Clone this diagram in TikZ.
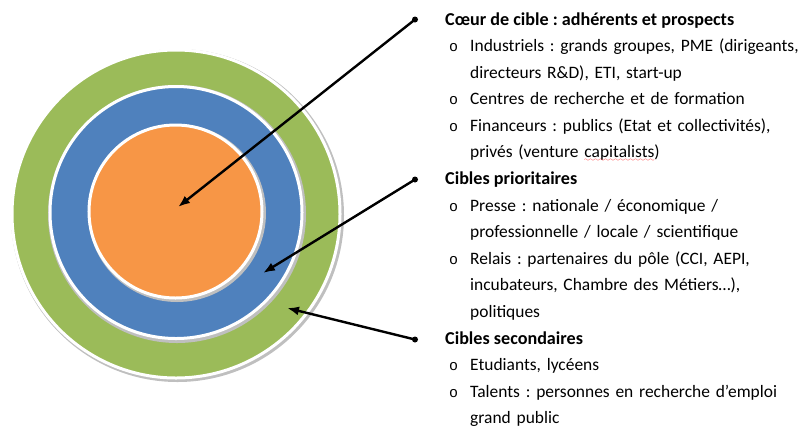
\documentclass[tikz,border=0pt]{standalone}
\usepackage{fontspec}
\setmainfont{Carlito}
\newfontfamily\puceFont{Liberation Mono}
\usetikzlibrary{arrows.meta,positioning}
\definecolor{CibleVert}{HTML}{9BBB59}
\definecolor{CibleBleu}{HTML}{4F81BD}
\definecolor{CibleOrange}{HTML}{F79646}
\frenchspacing
\newcommand{\taille}{\fontsize{17.5}{26.6}\selectfont}
\newcommand{\puce}{\leavevmode\llap{{\puceFont\fontsize{15}{26.6}\selectfont o}\hspace{12bp}}}
\font\vague=lasy6
\newcommand{\ondule}[1]{\setbox0\hbox{#1}\rlap{\copy0}%
  \lower3.5bp\hbox to\wd0{\color{red}\xleaders\hbox{\vague\char58}\hfil}}

\begin{document}
\begin{tikzpicture}[x=1bp,y=-1bp,
  anneau/.style={circle,draw=white,line width=3bp,inner sep=0pt},
  ombre/.style={circle,fill=black!25,inner sep=0pt},
  titre/.style={anchor=base west,inner sep=0pt,font=\fontsize{18.2}{26.6}\selectfont\bfseries},
  liste/.style={anchor=base west,inner sep=0pt,text width=345bp,align=left,font=\taille},
  point/.style={circle,fill=black,inner sep=0pt,minimum size=6bp},
  fleche/.style={-{Latex[length=12bp,width=9bp]},line width=2.4bp}]
  \useasboundingbox (0,0) rectangle (805,428);
  % cible
  \node[ombre,minimum size=333bp] at (177.5,215.5) {};
  \node[anneau,fill=CibleVert,minimum size=328bp] (vert) at (176,214) {};
  \node[ombre,minimum size=258bp] at (177,214) {};
  \node[anneau,fill=CibleBleu,minimum size=252bp] (bleu) at (176,212.5) {};
  \node[ombre,minimum size=178bp] at (177,213) {};
  \node[anneau,fill=CibleOrange,minimum size=173bp] (orange) at (175.5,211.5) {};
  \coordinate (cible1) at (178,207);
  \coordinate (cible2) at (263,273);
  \coordinate (cible3) at (287,308);
  % textes
  \node[point] (dot1) at (415,19.5) {};
  \node[titre] (coeur) at (445,25) {C\oe ur de cible : adhérents et prospects};
  \node[liste] (coeurliste) at (470,51.6) {\puce Industriels : grands groupes, PME (dirigeants,\\
    directeurs R\&D), ETI, start-up\\
    \puce Centres de recherche et de formation\\
    \puce Financeurs : publics (Etat et collectivités),\\
    privés (venture \ondule{capitalists})};
  \node[point] (dot2) at (415,179.5) {};
  \node[titre] (prio) at (445,184.6) {Cibles prioritaires};
  \node[liste] (prioliste) at (470,211.2) {\puce Presse : nationale / économique /\\
    professionnelle / locale / scientifique\\
    \puce Relais : partenaires du pôle (CCI, AEPI,\\
    incubateurs, Chambre des Métiers…),\\
    politiques};
  \node[point] (dot3) at (415,339.5) {};
  \node[titre] (second) at (445,344.2) {Cibles secondaires};
  \node[liste] (secondliste) at (470,370.8) {\puce Etudiants, lycéens\\
    \puce Talents : personnes en recherche d’emploi\\
    grand public};
  % fleches
  \foreach \d/\c in {dot1/cible1,dot2/cible2,dot3/cible3}{
    \draw[fleche] (\d.center) -- (\c);
  }
\end{tikzpicture}
\end{document}
